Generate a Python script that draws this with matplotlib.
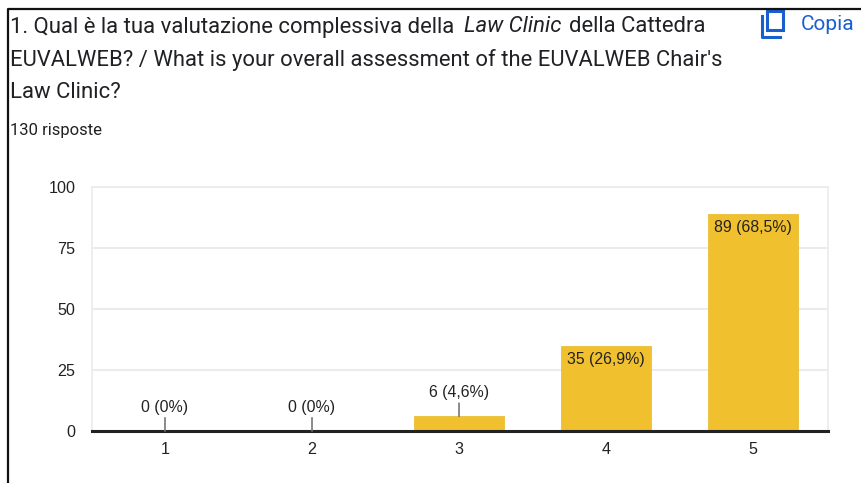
import matplotlib
matplotlib.use("Agg")
import matplotlib.pyplot as plt
from matplotlib.lines import Line2D
from matplotlib.patches import Rectangle

W, H = 862, 483

categorie = [1, 2, 3, 4, 5]
risposte = [0, 0, 6, 35, 89]
etichette = ["0 (0%)", "0 (0%)", "6 (4,6%)", "35 (26,9%)", "89 (68,5%)"]
y_ticks = [0, 25, 50, 75, 100]

plt.rcParams['font.family'] = ['Roboto', 'DejaVu Sans']

# passa da pixel dell'immagine a coordinate figura
def fx(x):
    return x / W

def fy(y):
    return 1 - y / H

fig = plt.figure(figsize=(8.62, 4.83), dpi=100)
ax = fig.add_axes([fx(91.5), fy(431), (828 - 91.5) / W, (431 - 187) / H])

ax.bar(categorie, risposte, width=0.615, color="#f1c02e", edgecolor="#e8b923", linewidth=0.5, zorder=3)
ax.set_xlim(0.5, 5.51)
ax.set_ylim(0, 100)
ax.set_xticks(categorie)
ax.set_yticks(y_ticks)
ax.grid(axis='y', color="#ebebeb", linewidth=1.5, zorder=0)
ax.tick_params(length=0, labelsize=11.6, labelcolor="#222222", labelfontfamily="Liberation Sans")
ax.tick_params(axis='x', pad=8)
ax.tick_params(axis='y', pad=11.5)
for s in ['top', 'right', 'left']:
    ax.spines[s].set_color("#ebebeb")
    ax.spines[s].set_linewidth(1.2)
ax.spines['bottom'].set_color("#222222")
ax.spines['bottom'].set_linewidth(2.2)
ax.spines['bottom'].set_zorder(5)

for c, r, e in zip(categorie, risposte, etichette):
    if r > 20:
        # dentro la barra
        ax.annotate(e, (c, r), xytext=(0, -4.5), textcoords='offset points', ha='center', va='top',
                    fontsize=11.4, color="#222222", family="Liberation Sans", zorder=6)
    else:
        ax.annotate(e, (c, r), xytext=(0, 11.5), textcoords='offset points', ha='center', va='bottom',
                    fontsize=11.4, color="#222222", family="Liberation Sans", zorder=6,
                    arrowprops=dict(arrowstyle='-', color="#777777", lw=1.2, shrinkA=0, shrinkB=0))

# titolo e sottotitolo
fig.text(fx(10), fy(27), "1. Qual è la tua valutazione complessiva della", fontsize=15.9, color="#202124", va='center')
fig.text(fx(464), fy(27), "Law Clinic", fontsize=15.9, style='italic', color="#202124", va='center')
fig.text(fx(569), fy(27), "della Cattedra", fontsize=15.9, color="#202124", va='center')
fig.text(fx(10), fy(60), "EUVALWEB? / What is your overall assessment of the EUVALWEB Chair's", fontsize=15.85, color="#202124", va='center')
fig.text(fx(10), fy(92), "Law Clinic?", fontsize=15.9, color="#202124", va='center')
fig.text(fx(10), fy(130), "130 risposte", fontsize=12, color="#202124", va='center')

# pulsante Copia
fig.text(fx(801), fy(25), "Copia", fontsize=15, color="#1a5fd0", va='center')
fig.add_artist(Rectangle((fx(767), fy(30)), 16 / W, 19 / H, fill=False, edgecolor="#1a5fd0", linewidth=2.2, transform=fig.transFigure))
fig.add_artist(Line2D([fx(762.5), fx(762.5), fx(780)], [fy(16), fy(36.5), fy(36.5)], color="#1a5fd0", linewidth=2.2, transform=fig.transFigure))

# bordo nero dello screenshot
fig.add_artist(Line2D([fx(8.5), fx(8.5), fx(862)], [fy(483), fy(8.5), fy(8.5)], color="#111111", linewidth=1.6, transform=fig.transFigure))

fig.savefig("out.png", dpi=100)
